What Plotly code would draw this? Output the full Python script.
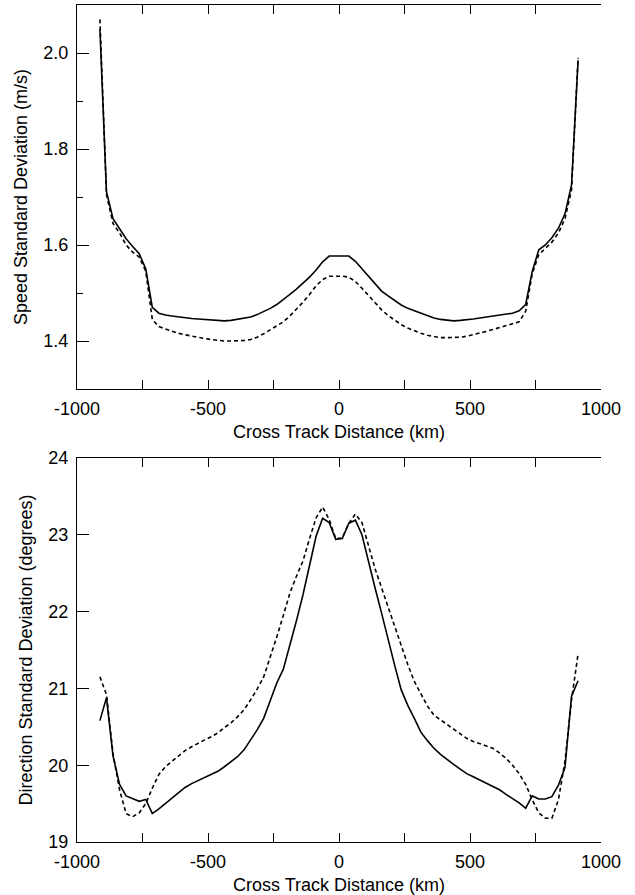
import plotly.graph_objects as go

# cross track cell centres (km)
distance = [-912.5, -887.5, -862.5, -837.5, -812.5, -787.5, -762.5, -737.5, -712.5, -687.5,
            -662.5, -637.5, -612.5, -587.5, -562.5, -537.5, -512.5, -487.5, -462.5, -437.5,
            -412.5, -387.5, -362.5, -337.5, -312.5, -287.5, -262.5, -237.5, -212.5, -187.5,
            -162.5, -137.5, -112.5, -87.5, -62.5, -37.5, -12.5, 12.5, 37.5, 62.5,
            87.5, 112.5, 137.5, 162.5, 187.5, 212.5, 237.5, 262.5, 287.5, 312.5,
            337.5, 362.5, 387.5, 412.5, 437.5, 462.5, 487.5, 512.5, 537.5, 562.5,
            587.5, 612.5, 637.5, 662.5, 687.5, 712.5, 737.5, 762.5, 787.5, 812.5,
            837.5, 862.5, 887.5, 912.5]

# speed standard deviation (m/s)
speed_solid = [2.05, 1.711, 1.655, 1.633, 1.613, 1.597, 1.582, 1.55, 1.47, 1.458,
               1.454, 1.452, 1.45, 1.449, 1.447, 1.446, 1.445, 1.444, 1.443, 1.442,
               1.443, 1.445, 1.447, 1.45, 1.455, 1.461, 1.468, 1.476, 1.486, 1.497,
               1.508, 1.52, 1.533, 1.548, 1.565, 1.577, 1.577, 1.577, 1.577, 1.566,
               1.55, 1.535, 1.518, 1.504, 1.494, 1.484, 1.475, 1.468, 1.463, 1.457,
               1.452, 1.448, 1.445, 1.443, 1.442, 1.443, 1.444, 1.446, 1.448, 1.45,
               1.452, 1.453, 1.455, 1.458, 1.463, 1.476, 1.545, 1.59, 1.6, 1.615,
               1.635, 1.665, 1.725, 1.985]
speed_dashed = [2.07, 1.705, 1.645, 1.625, 1.6, 1.585, 1.575, 1.545, 1.445, 1.43,
                1.425, 1.42, 1.416, 1.413, 1.41, 1.407, 1.405, 1.403, 1.401, 1.4,
                1.4, 1.4, 1.401, 1.403, 1.408, 1.415, 1.423, 1.431, 1.44, 1.452,
                1.466, 1.481, 1.497, 1.515, 1.528, 1.535, 1.535, 1.535, 1.533, 1.524,
                1.51, 1.495, 1.479, 1.465, 1.453, 1.443, 1.434, 1.427, 1.421, 1.416,
                1.412, 1.409, 1.407, 1.407, 1.407, 1.408, 1.41, 1.413, 1.416, 1.42,
                1.424, 1.428, 1.432, 1.436, 1.44, 1.462, 1.54, 1.58, 1.592, 1.606,
                1.625, 1.655, 1.715, 1.99]

# direction standard deviation (degrees)
dir_solid = [20.58, 20.88, 20.12, 19.75, 19.6, 19.56, 19.53, 19.555, 19.37, 19.43,
             19.5, 19.57, 19.64, 19.71, 19.76, 19.8, 19.84, 19.87, 19.92, 19.98,
             20.05, 20.11, 20.2, 20.33, 20.46, 20.61, 20.84, 21.07, 21.25, 21.55,
             21.88, 22.22, 22.6, 22.98, 23.215, 23.16, 22.94, 22.95, 23.15, 23.19,
             23.0, 22.64, 22.31, 21.98, 21.62, 21.3, 20.98, 20.78, 20.61, 20.43,
             20.32, 20.22, 20.14, 20.07, 20.01, 19.95, 19.89, 19.85, 19.81, 19.77,
             19.73, 19.68, 19.62, 19.57, 19.51, 19.44, 19.6, 19.56, 19.56, 19.59,
             19.74, 19.97, 20.9, 21.1]
dir_dashed = [21.15, 20.92, 20.15, 19.68, 19.37, 19.33, 19.38, 19.5, 19.7, 19.88,
              19.98, 20.05, 20.12, 20.19, 20.24, 20.29, 20.33, 20.37, 20.42, 20.49,
              20.55, 20.63, 20.72, 20.85, 20.99, 21.15, 21.4, 21.67, 21.95, 22.24,
              22.46, 22.66, 22.95, 23.22, 23.36, 23.2, 22.95, 22.96, 23.15, 23.27,
              23.16, 22.86, 22.56, 22.31, 22.06, 21.8, 21.55, 21.31, 21.09, 20.92,
              20.77, 20.65, 20.59, 20.53, 20.47, 20.41, 20.35, 20.31, 20.28, 20.25,
              20.22, 20.16, 20.09, 20.0, 19.89, 19.75, 19.55, 19.38, 19.31, 19.31,
              19.55, 20.05, 20.85, 21.45]

x_ticks = [-1000, -500, 0, 500, 1000]
x_labels = ["-1000", "-500", "0", "500", "1000"]

FONT = dict(family="Liberation Sans, Arial, sans-serif", size=18, color="black")
solid = dict(color="black", width=1.6)
dashed = dict(color="black", width=1.6, dash="4px,3px")

fig = go.Figure()
fig.add_trace(go.Scatter(x=distance, y=speed_solid, mode="lines", line=solid, xaxis="x", yaxis="y"))
fig.add_trace(go.Scatter(x=distance, y=speed_dashed, mode="lines", line=dashed, xaxis="x", yaxis="y"))
fig.add_trace(go.Scatter(x=distance, y=dir_solid, mode="lines", line=solid, xaxis="x2", yaxis="y2"))
fig.add_trace(go.Scatter(x=distance, y=dir_dashed, mode="lines", line=dashed, xaxis="x2", yaxis="y2"))

xcommon = dict(range=[-1000, 1000], tickvals=x_ticks, ticktext=x_labels, ticks="inside",
               ticklen=9, tickcolor="black", showline=True, linecolor="black", linewidth=1.2,
               mirror="ticks", showgrid=False, zeroline=False, tickfont=FONT, automargin=False,
               minor=dict(tickvals=[-750, -250, 250, 750], ticks="inside", ticklen=9, tickcolor="black"),
               title=dict(text="Cross Track Distance (km)", font=FONT, standoff=7),
               ticklabelstandoff=3)

fig.update_layout(
    width=635, height=895,
    margin=dict(l=77, r=34, t=5, b=53),
    plot_bgcolor="white", paper_bgcolor="white",
    showlegend=False, font=FONT,
    xaxis=dict(xcommon, anchor="y", domain=[0, 1]),
    xaxis2=dict(xcommon, anchor="y2", domain=[0, 1]),
    yaxis=dict(domain=[0.5412, 1], range=[1.3, 2.1], tickvals=[1.4, 1.6, 1.8, 2.0],
               ticktext=["1.4", "1.6", "1.8", "2.0"], ticks="inside", ticklen=12,
               tickcolor="black", showline=True, linecolor="black", linewidth=1.2,
               showgrid=False, zeroline=False, tickfont=FONT, ticklabelstandoff=4,
               automargin=False,
               minor=dict(tickvals=[1.5, 1.7, 1.9], ticks="inside", ticklen=6, tickcolor="black"),
               title=dict(text="Speed Standard Deviation (m/s)", font=FONT, standoff=10),
               anchor="x"),
    yaxis3=dict(overlaying="y", side="right", anchor="x", range=[1.3, 2.1], automargin=False,
                tickvals=[1.4, 1.5, 1.6, 1.7, 1.8, 1.9, 2.0], ticks="inside", ticklen=11,
                tickcolor="black", showticklabels=False, showline=True, linecolor="black",
                linewidth=1.2, showgrid=False, zeroline=False),
    yaxis2=dict(domain=[0, 0.4588], range=[19, 24], tickvals=[19, 20, 21, 22, 23, 24],
                ticks="inside", ticklen=12, tickcolor="black", showline=True, linecolor="black",
                linewidth=1.2, showgrid=False, zeroline=False, tickfont=FONT, ticklabelstandoff=4,
                automargin=False,
                title=dict(text="Direction Standard Deviation (degrees)", font=FONT, standoff=10),
                anchor="x2"),
    yaxis4=dict(overlaying="y2", side="right", anchor="x2", range=[0, 8], automargin=False,
                tickvals=[1, 3, 5, 7], ticks="inside", ticklen=11, tickcolor="black",
                minor=dict(tickvals=[2, 4, 6], ticks="inside", ticklen=6, tickcolor="black"),
                showticklabels=False, showline=True, linecolor="black", linewidth=1.2,
                showgrid=False, zeroline=False),
    yaxis5=dict(overlaying="y2", side="left", anchor="x2", range=[0, 8], automargin=False,
                tickvals=[2, 4, 6], ticks="inside", ticklen=6, tickcolor="black",
                showticklabels=False, showline=False, showgrid=False, zeroline=False),
)

# page body has a default 8px margin; drop it so the figure sits at the corner
fig.write_html("out.html", config={"displayModeBar": False},
               post_script="document.body.style.margin='0';")
